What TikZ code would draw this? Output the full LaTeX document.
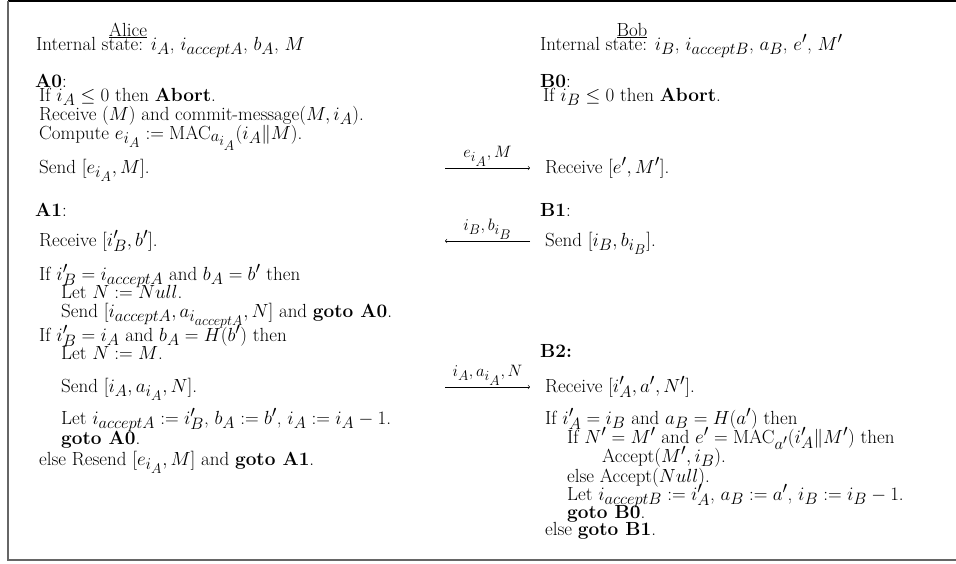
\RequirePackage{fix-cm}
\documentclass[tikz,border=0pt]{standalone}
\DeclareMathSizes{19}{19}{16.5}{14}
\tikzset{
  txt/.style={anchor=base west, inner sep=0pt, font=\fontsize{19}{19}\selectfont},
  ttl/.style={anchor=base, inner sep=0pt, font=\fontsize{19}{19}\selectfont},
  msg/.style={-to, line width=0.6pt},
  lbl/.style={above, inner sep=1.5pt, font=\fontsize{19}{19}\selectfont},
}
\begin{document}
\begin{tikzpicture}[x=1pt,y=-1pt]
\useasboundingbox (0,0) rectangle (956,563);
% frame
\draw[line width=1.3pt] (8,1) -- (956,1);
\draw[line width=1.3pt, black!60] (8,1) -- (8,560) -- (956,560);
% Alice
\node[ttl] (at) at (128,36) {\underline{Alice}};
\node[txt] (ais) at (36,50) {Internal state: $i_A$, $i_{acceptA}$, $b_A$, $M$};
\node[txt] (a0) at (35,87) {\textbf{A0}:};
\node[txt] (a0a) at (39,101) {If $i_A \le 0$ then \textbf{Abort}.};
\node[txt] (a0b) at (39,120) {Receive $(M)$ and commit-message$(M, i_A)$.};
\node[txt] (a0c) at (39,139) {Compute $e_{i_A} := \mathrm{MAC}_{a_{i_A}}(i_A\|M)$.};
\node[txt] (a0d) at (39,173) {Send $[e_{i_A}, M]$.};
\node[txt] (a1) at (35,216) {\textbf{A1}:};
\node[txt] (a1a) at (39,246) {Receive $[i'_B, b']$.};
\node[txt] (a1b) at (39,280) {If $i'_B = i_{acceptA}$ and $b_A = b'$ then};
\node[txt] (a1c) at (61,298) {Let $N := Null$.};
\node[txt] (a1d) at (61,317) {Send $[i_{acceptA}, a_{i_{acceptA}}, N]$ and \textbf{goto A0}.};
\node[txt] (a1e) at (39,341) {If $i'_B = i_A$ and $b_A = H(b')$ then};
\node[txt] (a1f) at (61,359) {Let $N := M$.};
\node[txt] (a1g) at (61,392) {Send $[i_A, a_{i_A}, N]$.};
\node[txt] (a1h) at (61,424) {Let $i_{acceptA} := i'_B$, $b_A := b'$, $i_A := i_A - 1$.};
\node[txt] (a1i) at (61,444) {\textbf{goto A0}.};
\node[txt] (a1j) at (39,465) {else Resend $[e_{i_A}, M]$ and \textbf{goto A1}.};
% Bob
\node[ttl] (bt) at (632,36) {\underline{Bob}};
\node[txt] (bis) at (540,50) {Internal state: $i_B$, $i_{acceptB}$, $a_B$, $e'$, $M'$};
\node[txt] (b0) at (540,87) {\textbf{B0}:};
\node[txt] (b0a) at (543,101) {If $i_B \le 0$ then \textbf{Abort}.};
\node[txt] (b0b) at (545,173) {Receive $[e', M']$.};
\node[txt] (b1) at (540,216) {\textbf{B1}:};
\node[txt] (b1a) at (545,246) {Send $[i_B, b_{i_B}]$.};
\node[txt] (b2) at (540,357) {\textbf{B2:}};
\node[txt] (b2a) at (545,392) {Receive $[i'_A, a', N']$.};
\node[txt] (b2b) at (545,424) {If $i'_A = i_B$ and $a_B = H(a')$ then};
\node[txt] (b2c) at (567,443) {If $N' = M'$ and $e' = \mathrm{MAC}_{a'}(i'_A\|M')$ then};
\node[txt] (b2d) at (602,462) {Accept$(M', i_B)$.};
\node[txt] (b2e) at (567,482) {else Accept$(Null)$.};
\node[txt] (b2f) at (567,500) {Let $i_{acceptB} := i'_A$, $a_B := a'$, $i_B := i_B - 1$.};
\node[txt] (b2g) at (567,518) {\textbf{goto B0}.};
\node[txt] (b2h) at (545,535) {else \textbf{goto B1}.};
% messages
\coordinate (m1s) at (445,168);
\coordinate (m1e) at (530,168);
\draw[msg] (m1s) -- node[lbl] {$\scriptstyle e_{i_A},\,M$} (m1e);
\coordinate (m2s) at (530,241);
\coordinate (m2e) at (445,241);
\draw[msg] (m2s) -- node[lbl] {$\scriptstyle i_B,\,b_{i_B}$} (m2e);
\coordinate (m3s) at (445,387);
\coordinate (m3e) at (530,387);
\draw[msg] (m3s) -- node[lbl] {$\scriptstyle i_A,\,a_{i_A},\,N$} (m3e);
\end{tikzpicture}
\end{document}
